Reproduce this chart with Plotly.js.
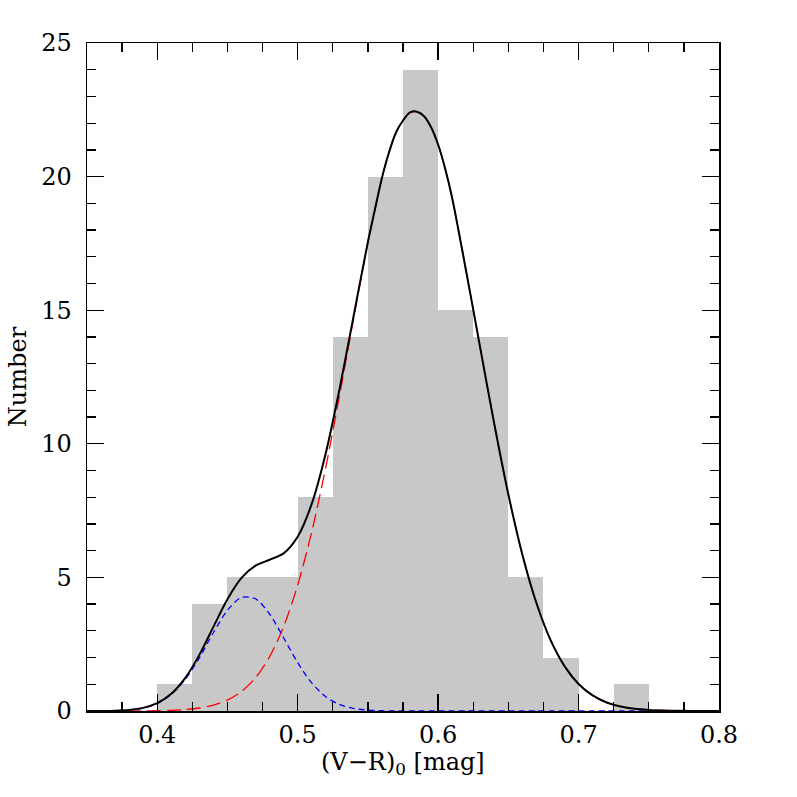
<!DOCTYPE html>
<html>
<head>
<meta charset="utf-8">
<script src="https://cdn.plot.ly/plotly-3.0.1.min.js"></script>
<style>
  html, body { margin: 0; padding: 0; background: #fff; }
  #chart { width: 797px; height: 797px; }
</style>
</head>
<body>
<div id="chart"></div>
<script>
// histogram bins (width 0.025) and counts
const binCenters = [0.4125, 0.4375, 0.4625, 0.4875, 0.5125, 0.5375, 0.5625,
                    0.5875, 0.6125, 0.6375, 0.6625, 0.6875, 0.7125, 0.7375];
const counts = [1, 4, 5, 5, 8, 14, 20, 24, 15, 14, 5, 2, 0, 1];

// curves (finer steps around the peak)
const curveX = [0.35, 0.36, 0.37, 0.38, 0.39, 0.40, 0.41, 0.42, 0.43, 0.44,
                0.45, 0.46, 0.47, 0.48, 0.49, 0.50, 0.51, 0.52, 0.53, 0.54,
                0.55, 0.555, 0.56, 0.565, 0.57, 0.575, 0.58, 0.585, 0.59, 0.595,
                0.60, 0.605, 0.61, 0.62, 0.63, 0.64,
                0.65, 0.66, 0.67, 0.68, 0.69, 0.70, 0.71, 0.72, 0.73, 0.74,
                0.75, 0.76, 0.77, 0.78, 0.79, 0.80];

// blue: blue-ish population
const blueY = [0.001, 0.003, 0.012, 0.039, 0.112, 0.281, 0.617, 1.185, 1.99, 2.93,
               3.77, 4.25, 4.20, 3.63, 2.74, 1.81, 1.05, 0.533, 0.236, 0.092,
               0.031, 0.017, 0.009, 0.004, 0.002, 0, 0, 0, 0, 0,
               0, 0, 0, 0, 0, 0,
               0, 0, 0, 0, 0, 0, 0, 0, 0, 0,
               0, 0, 0, 0, 0, 0];

// red: main population
const redY = [0.0001, 0.0003, 0.0008, 0.002, 0.005, 0.011, 0.026, 0.055, 0.112, 0.219,
              0.409, 0.730, 1.244, 2.03, 3.16, 4.71, 6.70, 9.12, 11.86, 14.74,
              17.52, 18.75, 19.94, 20.9, 21.65, 22.1, 22.4, 22.43, 22.26, 21.85,
              21.2, 20.3, 19.2, 16.45, 13.59, 10.74,
              8.11, 5.85, 4.04, 2.66, 1.68, 1.01, 0.582, 0.320, 0.168, 0.084,
              0.041, 0.019, 0.008, 0.003, 0.001, 0.0005];

// black: total fit
const totalY = [0.001, 0.003, 0.013, 0.041, 0.117, 0.292, 0.643, 1.24, 2.10, 3.15,
                4.18, 4.98, 5.44, 5.66, 5.90, 6.52, 7.75, 9.65, 12.10, 14.83,
                17.55, 18.77, 19.95, 20.9, 21.65, 22.1, 22.4, 22.43, 22.26, 21.85,
                21.2, 20.3, 19.2, 16.45, 13.59, 10.74,
                8.11, 5.85, 4.04, 2.66, 1.68, 1.01, 0.582, 0.320, 0.168, 0.084,
                0.041, 0.019, 0.008, 0.003, 0.001, 0.0005];

const font = {family: 'DejaVu Serif, serif', size: 24, color: '#000'};

const traces = [
  {
    type: 'bar', x: binCenters, y: counts, width: 0.025,
    marker: {color: '#c8c8c8', line: {width: 0}},
  },
  {
    type: 'scatter', mode: 'lines', x: curveX, y: redY,
    line: {color: '#ff0000', width: 1.3, dash: '14px,6px', shape: 'spline', smoothing: 0.8},
  },
  {
    type: 'scatter', mode: 'lines', x: curveX, y: blueY,
    line: {color: '#0000ff', width: 1.3, dash: '6px,4px', shape: 'spline', smoothing: 0.8},
  },
  {
    type: 'scatter', mode: 'lines', x: curveX, y: totalY,
    line: {color: '#000000', width: 2, shape: 'spline', smoothing: 0.8},
  },
];

const axisCommon = {
  showgrid: false, zeroline: false,
  showline: true, linecolor: '#000', linewidth: 1.5,
  mirror: 'ticks', ticks: 'inside', tickcolor: '#000', tickwidth: 1.3,
  ticklen: 17, tickfont: font,
};

const layout = {
  width: 797, height: 797,
  margin: {l: 87, r: 78, t: 43, b: 86},
  paper_bgcolor: '#fff', plot_bgcolor: '#fff',
  showlegend: false,
  bargap: 0,
  font: font,
  xaxis: Object.assign({}, axisCommon, {
    range: [0.35, 0.8], tick0: 0.4, dtick: 0.1, tickformat: '.1f',
    ticklabelstandoff: 2,
    minor: {dtick: 0.025, tick0: 0.35, ticks: 'inside', ticklen: 9, tickwidth: 1.3, tickcolor: '#000'},
  }),
  yaxis: Object.assign({}, axisCommon, {
    range: [0, 25], tick0: 0, dtick: 5,
    ticklabelstandoff: 9,
    minor: {dtick: 1, ticks: 'inside', ticklen: 9, tickwidth: 1.3, tickcolor: '#000'},
    title: {text: 'Number', font: font, standoff: 8},
  }),
  annotations: [{
    text: '(V−R)<sub>0</sub> [mag]', font: font, showarrow: false,
    xref: 'paper', yref: 'paper', x: 0.5, y: -0.078,
    xanchor: 'center', yanchor: 'middle',
  }],
};

Plotly.newPlot('chart', traces, layout, {displayModeBar: false, staticPlot: true});
</script>
</body>
</html>
